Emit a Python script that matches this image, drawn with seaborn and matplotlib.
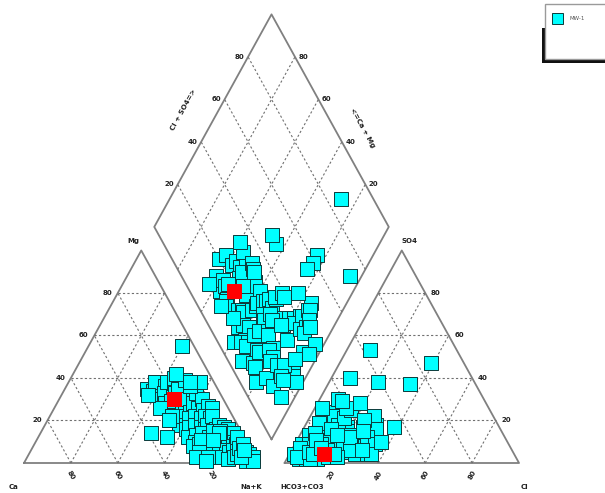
import numpy as np
import pandas as pd
import matplotlib
matplotlib.use("Agg")
import matplotlib.pyplot as plt
import seaborn as sns
from matplotlib.patches import Rectangle

sns.set_theme(style="white")
plt.rcParams['font.family'] = ['DejaVu Sans']

# ---- sample chemistry (meq %) ----
ca = [30, 28, 25, 22, 27, 24, 20, 18, 26, 16, 21, 19, 23, 15, 29, 17, 12, 31, 14, 20, 5,
      20, 18, 15, 22, 12, 17, 25, 14, 10, 19, 23, 13, 16, 9, 21, 11, 18, 14, 24, 8,
      16, 12, 20, 7, 15, 10, 22, 13, 17, 9, 26, 28, 11, 33, 39, 6, 10,
      12, 15, 10, 18, 8, 14, 20, 9, 11, 16, 6, 13, 7, 17, 10, 5, 12, 15, 8, 9,
      4, 11, 14, 6, 7, 10, 5, 8, 12, 4, 6, 9, 3, 5, 7, 24, 21, 19, 23, 25, 20, 22,
      3, 4, 2, 3, 2, 1, 5, 2, 4, 3, 5, 2, 6, 3,
      12, 9, 10, 14]
mg = [35, 34, 38, 36, 30, 33, 38, 36, 28, 40, 31, 33, 29, 37, 26, 35, 39, 32, 42, 30, 55,
      25, 27, 30, 22, 32, 24, 18, 28, 33, 21, 16, 26, 22, 30, 17, 25, 18, 21, 12, 27,
      17, 22, 13, 26, 16, 21, 10, 18, 14, 22, 22, 20, 36, 12, 14, 38, 38,
      15, 12, 16, 9, 18, 11, 6, 14, 12, 8, 17, 9, 14, 5, 10, 16, 7, 4, 11, 8,
      14, 6, 3, 10, 8, 5, 9, 6, 2, 8, 6, 3, 8, 5, 4, 8, 9, 11, 5, 3, 3, 1,
      5, 3, 4, 2, 2, 3, 1, 1, 10, 12, 7, 9, 3, 6,
      15, 15, 14, 11]
so4 = [8, 5, 10, 6, 4, 12, 3, 7, 9, 5, 2, 11, 6, 8, 3, 14, 4, 6, 10, 18, 12,
       6, 9, 4, 7, 12, 3, 5, 10, 8, 13, 2, 6, 15, 4, 7, 11, 5, 9, 3, 16,
       6, 20, 8, 2, 10, 5, 13, 4, 17, 7, 24, 19, 22, 9, 2, 18, 40,
       5, 8, 3, 6, 12, 2, 9, 15, 4, 7, 10, 18, 5, 11, 3, 21, 8, 14, 6, 25,
       4, 10, 2, 17, 28, 22, 7, 30, 16, 12, 5, 20, 26, 9, 3, 13, 26, 29, 4, 16, 10, 6,
       8, 12, 4, 37, 15, 6, 10, 3, 6, 9, 4, 11, 7, 13,
       47, 53, 38, 17]
cl = [12, 10, 14, 18, 9, 15, 14, 20, 8, 11, 12, 19, 7, 16, 15, 13, 8, 4, 22, 15, 21,
      10, 14, 12, 6, 18, 9, 13, 8, 21, 17, 5, 16, 10, 11, 19, 6, 24, 3, 7, 14,
      20, 12, 5, 9, 15, 26, 4, 2, 18, 13, 8, 5, 10, 3, 8, 30, 8,
      10, 16, 7, 21, 11, 13, 6, 19, 28, 3, 24, 14, 17, 9, 4, 15, 30, 6, 12, 16,
      33, 20, 10, 25, 18, 27, 14, 8, 31, 29, 8, 24, 13, 34, 17, 22, 3, 10, 35, 12, 36, 25,
      18, 22, 10, 35, 26, 30, 14, 21, 15, 11, 19, 8, 12, 16,
      39, 10, 21, 38]

# highlighted sample
hl_ca, hl_mg, hl_so4, hl_cl = [21], [30], [4], [15]

series_name = "MW-1"
tick_vals = [20, 40, 60, 80]

# ---- geometry ----
H = np.sqrt(3) / 2
GAP = 0.111
BX, BY = 1 + GAP / 2, GAP * H        # bottom vertex of the diamond


def cation_xy(c, m):
    c, m = np.asarray(c, float) / 100, np.asarray(m, float) / 100
    nak = 1 - c - m
    return nak + 0.5 * m, H * m


def anion_xy(s, l):
    s, l = np.asarray(s, float) / 100, np.asarray(l, float) / 100
    return 1 + GAP + l + 0.5 * s, H * s


def diamond_xy(c, m, s, l):
    p = (np.asarray(s, float) + np.asarray(l, float)) / 100
    q = (np.asarray(c, float) + np.asarray(m, float)) / 100
    return BX + 0.5 * (p - q), BY + H * (p + q)


def build(c, m, s, l):
    xs, ys = [], []
    for fx, fy in (cation_xy(c, m), anion_xy(s, l), diamond_xy(c, m, s, l)):
        xs.append(fx)
        ys.append(fy)
    return pd.DataFrame({"x": np.concatenate(xs), "y": np.concatenate(ys)})


pts = build(ca, mg, so4, cl)
hl = build(hl_ca, hl_mg, hl_so4, hl_cl)

fig = plt.figure(figsize=(6.05, 4.93), dpi=100)
ax = fig.add_axes([0, 0, 1, 1])
ax.set_xlim(-0.10235, 2.4776)
ax.set_ylim(-0.12225, 1.8867)
ax.axis("off")

edge_kw = dict(color="#808080", lw=1.3, zorder=1)
grid_kw = dict(color="#707070", lw=0.8, ls=(0, (2, 2)), zorder=1)
lab_kw = dict(fontsize=5, fontweight="bold", color="#222222", ha="center", va="center")

# ---- left (cation) triangle ----
ax.plot([0, 1, 0.5, 0], [0, 0, H, 0], **edge_kw)
for v in tick_vals:
    t = v / 100
    ax.plot([0.5 * t, 1 - 0.5 * t], [H * t, H * t], **grid_kw)
    ax.plot([1 - t, 0.5 * (1 - t)], [0, H * (1 - t)], **grid_kw)
    ax.plot([t, t + 0.5 * (1 - t)], [0, H * (1 - t)], **grid_kw)
    ax.text(0.5 * t - 0.045, H * t, str(v), **lab_kw)
    ax.text(1 - t, -0.05, str(v), rotation=-60, **lab_kw)
ax.text(-0.043, -0.098, "Ca", **lab_kw)
ax.text(0.968, -0.098, "Na+K", **lab_kw)
ax.text(0.465, 0.905, "Mg", **lab_kw)

# ---- right (anion) triangle ----
X0 = 1 + GAP
ax.plot([X0, X0 + 1, X0 + 0.5, X0], [0, 0, H, 0], **edge_kw)
for v in tick_vals:
    t = v / 100
    ax.plot([X0 + 0.5 * t, X0 + 1 - 0.5 * t], [H * t, H * t], **grid_kw)
    ax.plot([X0 + t, X0 + 0.5 * t], [0, H * t], **grid_kw)
    ax.plot([X0 + t, X0 + t + 0.5 * (1 - t)], [0, H * (1 - t)], **grid_kw)
    ax.text(X0 + 1 - 0.5 * t + 0.045, H * t, str(v), **lab_kw)
    ax.text(X0 + t, -0.05, str(v), rotation=60, **lab_kw)
ax.text(1.185, -0.098, "HCO3+CO3", **lab_kw)
ax.text(2.136, -0.098, "Cl", **lab_kw)
ax.text(1.642, 0.905, "SO4", **lab_kw)

# ---- central diamond ----
u1 = np.array([0.5, H])
u2 = np.array([-0.5, H])
B = np.array([BX, BY])
corners = np.array([B, B + u1, B + u1 + u2, B + u2, B])
ax.plot(corners[:, 0], corners[:, 1], **edge_kw)
for v in tick_vals:
    t = v / 100
    a, b = B + t * u1, B + t * u1 + u2
    ax.plot([a[0], b[0]], [a[1], b[1]], **grid_kw)
    a, b = B + t * u2, B + t * u2 + u1
    ax.plot([a[0], b[0]], [a[1], b[1]], **grid_kw)
    pl = B + u2 + t * u1
    ax.text(pl[0] - 0.035, pl[1], str(v), **lab_kw)
    pr = B + u1 + t * u2
    ax.text(pr[0] + 0.035, pr[1], str(v), **lab_kw)
ax.text(0.678, 1.438, "Cl + SO4=>", rotation=61, **lab_kw)
ax.text(1.441, 1.365, "<=Ca + Mg", rotation=-61, **lab_kw)

# ---- samples ----
sns.scatterplot(data=pts, x="x", y="y", marker="s", s=95, color="#00ffff",
                edgecolor="#0c3a3a", linewidth=0.7, legend=False, ax=ax, zorder=3)
sns.scatterplot(data=hl, x="x", y="y", marker="s", s=95, color="#ff0000",
                edgecolor="#ff0000", linewidth=0.7, legend=False, ax=ax, zorder=4)


# ---- legend box ----
def fr(px, py, w, h):
    return (px / 605, 1 - (py + h) / 493), w / 605, h / 493


xy, w, h = fr(542, 28, 70, 35)
fig.patches.append(Rectangle(xy, w, h, transform=fig.transFigure,
                             facecolor="#111111", edgecolor="none", zorder=5))
xy, w, h = fr(545, 4, 70, 55)
fig.patches.append(Rectangle(xy, w, h, transform=fig.transFigure,
                             facecolor="white", edgecolor="#9a9a9a", lw=1, zorder=6))
xy, w, h = fr(552, 13, 11, 11)
fig.patches.append(Rectangle(xy, w, h, transform=fig.transFigure,
                             facecolor="#00ffff", edgecolor="#0c3a3a", lw=0.7, zorder=7))
fig.text(570 / 605, 1 - 18.5 / 493, series_name, fontsize=4, color="#555555",
         ha="left", va="center", zorder=8)

fig.savefig("out.png", dpi=100, facecolor="white")
